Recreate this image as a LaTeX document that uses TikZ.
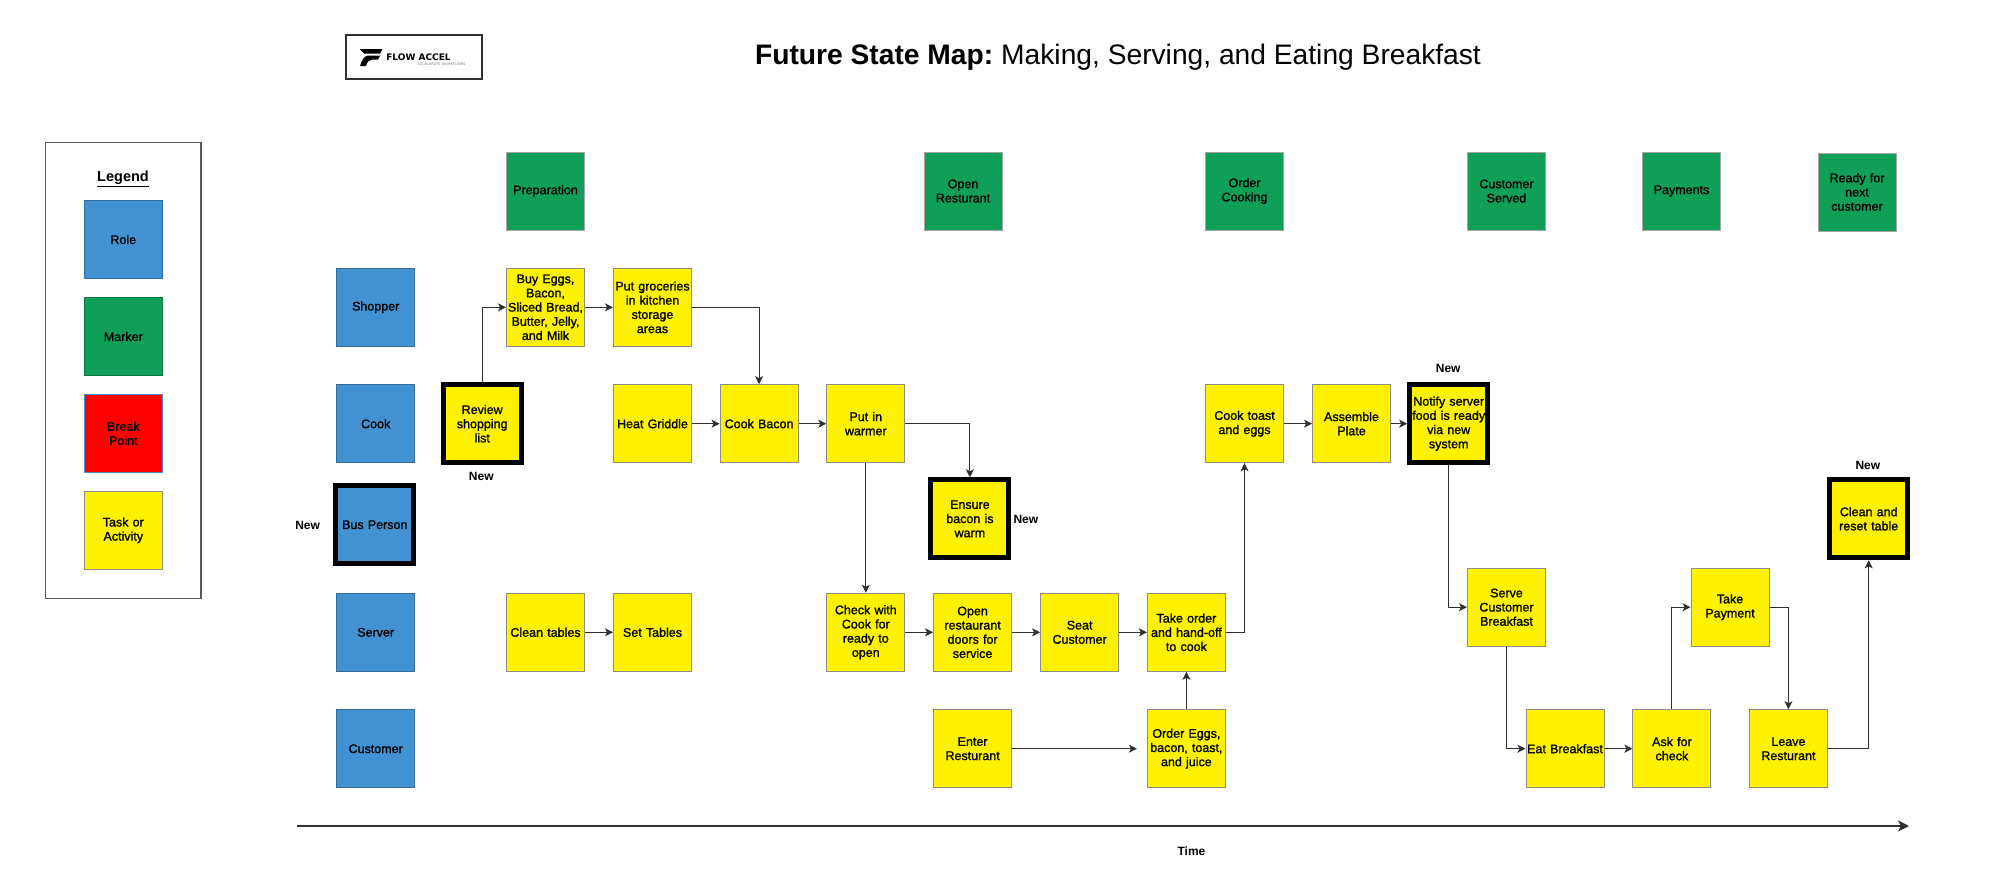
\documentclass[tikz,border=0pt]{standalone}
\usepackage{fontspec}
\setmainfont{Liberation Sans}
\newfontfamily\logofont{DejaVu Sans}
\newfontfamily\cardfont[FakeBold=1.2]{Liberation Sans}
\usetikzlibrary{arrows.meta}
\definecolor{roleblue}{HTML}{4292D1}
\definecolor{markgreen}{HTML}{0F9F59}
\definecolor{taskyellow}{HTML}{FFF200}
\definecolor{linegray}{HTML}{303030}
\tikzset{
    card/.style={rectangle, minimum width=78pt, minimum height=78pt, inner sep=0pt,
        align=center, text width=78pt, line width=1pt, font=\fontsize{12.5}{14.2}\cardfont},
    role/.style={card, fill=roleblue, draw=roleblue!75!black},
    marker/.style={card, fill=markgreen, draw=gray!70},
    task/.style={card, fill=taskyellow, draw=gray!90!olive},
    breakpt/.style={card, fill=red, draw=roleblue},
    newbox/.style={line width=5pt, draw=black, minimum width=77.5pt, minimum height=78pt},
    newtag/.style={inner sep=0pt, font=\fontsize{12}{14}\selectfont\bfseries},
    flow/.style={draw=linegray, line width=1pt, -{Stealth[length=8pt, width=8pt, inset=2pt]}}
}
\begin{document}
\begin{tikzpicture}[x=1pt, y=-1pt]
    \fill[white] (0, 0) rectangle (2000, 884);
    \useasboundingbox (0, 0) rectangle (2000, 884);

    % Logo and title
    \node (logobox) [draw=linegray, line width=1.2pt, minimum width=136pt, minimum height=44pt] at (414, 57) {};
    \fill[black] (359.5, 49) -- (382.5, 49) -- (380, 53.5) -- (364, 53.5) -- cycle;
    \fill[black] (368, 55.5) -- (380, 55.5) -- (378, 59.5) -- (372, 59.5) .. controls (369, 60) and (367, 62) .. (366, 66) -- (360, 66) .. controls (362, 60) and (364, 56) .. (368, 55.5) -- cycle;
    \node (logoname) [inner sep=0pt, font=\fontsize{9}{9}\logofont\bfseries] at (418.5, 57) {FLOW ACCEL};
    \node (logosub) [inner sep=0pt, text=gray, font=\fontsize{3.6}{4}\logofont] at (441.5, 64.5) {ACCELERATE WORKFLOWS};
    \node (title) [inner sep=0pt, font=\fontsize{28.2}{32}\selectfont] at (1118, 57) {\textbf{Future State Map:}\hspace{-2.5pt} Making, Serving, and Eating Breakfast};

    % Legend
    \node (legendbox) [draw=linegray!80, line width=1.2pt, minimum width=155.5pt, minimum height=456pt] at (123.3, 370.3) {};
    \node (legendtitle) [inner sep=0pt, font=\fontsize{14.5}{16}\selectfont\bfseries] at (123, 179) {\underline{Legend}};
    \node (legendrole) [role] at (123.3, 239.5) {Role};
    \node (legendmarker) [card, fill=markgreen, draw=markgreen!75!black] at (123.3, 336.5) {Marker};
    \node (legendbreak) [breakpt] at (123.3, 433.3) {Break\\Point};
    \node (legendtask) [task] at (123.3, 530.3) {Task or\\Activity};

    % Markers
    \node (preparation) [marker] at (545.5, 191) {Preparation};
    \node (openrest) [marker] at (963, 191) {Open\\Resturant};
    \node (ordercook) [marker] at (1244.5, 191) {Order\\Cooking};
    \node (served) [marker] at (1506.5, 191) {Customer\\Served};
    \node (payments) [marker] at (1681.5, 191) {Payments};
    \node (ready) [marker] at (1857, 192) {Ready for\\next\\customer};

    % Roles
    \node (shopper) [role] at (375.7, 307.3) {Shopper};
    \node (cook) [role] at (375.7, 423.7) {Cook};
    \node (busperson) [role, newbox] at (374.8, 524.7) {Bus Person};
    \node (server) [role] at (375.7, 632.3) {Server};
    \node (customer) [role] at (375.7, 748.7) {Customer};
    \node (newbus) [newtag] at (307.6, 525.7) {New};

    % Shopper and Cook rows
    \node (buyeggs) [task] at (545.5, 307.3) {Buy Eggs,\\Bacon,\\Sliced Bread,\\Butter, Jelly,\\and Milk};
    \node (groceries) [task] at (652.5, 307.3) {Put groceries\\in kitchen\\storage\\areas};
    \node (review) [task, newbox] at (482.2, 423.7) {Review\\shopping\\list};
    \node (newreview) [newtag] at (481.3, 476.7) {New};
    \node (griddle) [task] at (652.5, 423.7) {Heat Griddle};
    \node (bacon) [task] at (759.1, 423.7) {Cook Bacon};
    \node (warmer) [task] at (865.8, 423.7) {Put in\\warmer};
    \node (ensure) [task, newbox] at (969.9, 518.8) {Ensure\\bacon is\\warm};
    \node (newensure) [newtag] at (1025.9, 519.3) {New};
    \node (toast) [task] at (1244.5, 423.7) {Cook toast\\and eggs};
    \node (assemble) [task] at (1351.5, 423.7) {Assemble\\Plate};
    \node (notify) [task, newbox] at (1448.7, 423.7) {Notify server\\food is ready\\via new\\system};
    \node (newnotify) [newtag] at (1448.2, 368.7) {New};
    \node (cleanreset) [task, newbox] at (1868.7, 518.8) {Clean and\\reset table};
    \node (newclean) [newtag] at (1867.9, 465.7) {New};

    % Server row
    \node (cleantables) [task] at (545.5, 632.3) {Clean tables};
    \node (settables) [task] at (652.5, 632.3) {Set Tables};
    \node (check) [task] at (865.8, 632.3) {Check with\\Cook for\\ready to\\open};
    \node (opendoors) [task] at (972.6, 632.3) {Open\\restaurant\\doors for\\service};
    \node (seat) [task] at (1079.6, 632.3) {Seat\\Customer};
    \node (takeorder) [task] at (1186.4, 632.3) {Take order\\and hand-off\\to cook};
    \node (serve) [task] at (1506.5, 607.2) {Serve\\Customer\\Breakfast};
    \node (payment) [task] at (1730, 607.2) {Take\\Payment};

    % Customer row
    \node (enter) [task] at (972.6, 748.7) {Enter\\Resturant};
    \node (ordereggs) [task] at (1186.4, 748.7) {Order Eggs,\\bacon, toast,\\and juice};
    \node (eat) [task] at (1565, 748.7) {Eat Breakfast};
    \node (askcheck) [task] at (1671.9, 748.7) {Ask for\\check};
    \node (leave) [task] at (1788.4, 748.7) {Leave\\Resturant};

    % Connectors
    \draw[flow] (review) |- (buyeggs);
    \draw[flow] (buyeggs) -- (groceries);
    \draw[flow] (groceries) -| (bacon);
    \draw[flow] (griddle) -- (bacon);
    \draw[flow] (bacon) -- (warmer);
    \draw[flow] (warmer) -| (ensure);
    \draw[flow] (warmer) -- (check);
    \draw[flow] (cleantables) -- (settables);
    \draw[flow] (check) -- (opendoors);
    \draw[flow] (opendoors) -- (seat);
    \draw[flow] (seat) -- (takeorder);
    \draw[flow] (takeorder) -| (toast);
    \draw[flow] (ordereggs) -- (takeorder);
    \draw[flow, shorten >=10pt] (enter) -- (ordereggs);
    \draw[flow] (toast) -- (assemble);
    \draw[flow] (assemble) -- (notify);
    \draw[flow] (notify) |- (serve);
    \draw[flow] (serve) |- (eat);
    \draw[flow] (eat) -- (askcheck);
    \draw[flow] (askcheck) |- (payment);
    \draw[flow] (payment) -| (leave);
    \draw[flow] (leave) -| (cleanreset);

    % Time axis
    \coordinate (timestart) at (297.3, 826);
    \coordinate (timeend) at (1909, 826);
    \draw[draw=linegray, line width=2pt, -{Stealth[length=11pt, width=11pt, inset=3pt]}] (timestart) -- (timeend);
    \node (timelabel) [newtag] at (1191.5, 850.7) {Time};
\end{tikzpicture}
\end{document}
